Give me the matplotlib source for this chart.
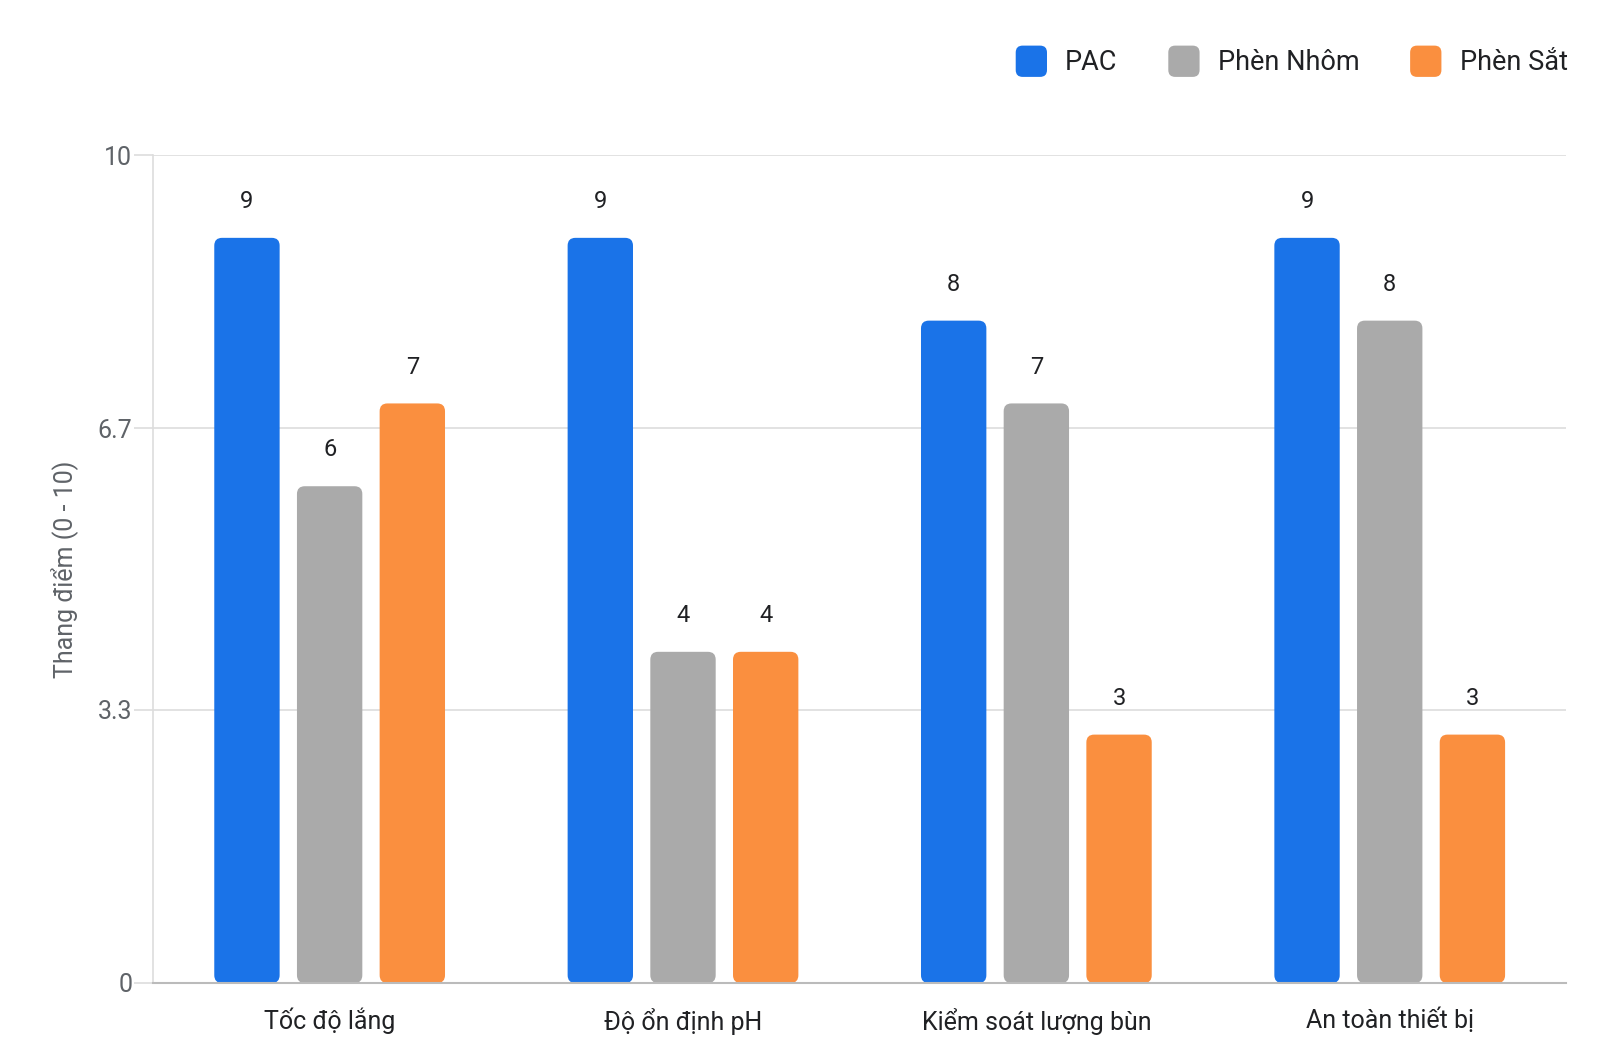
import matplotlib
matplotlib.use('Agg')
import matplotlib.pyplot as plt
from matplotlib.patches import FancyBboxPatch, Patch
from matplotlib.legend_handler import HandlerPatch
import numpy as np

categories = ['Tốc độ lắng', 'Độ ổn định pH', 'Kiểm soát lượng bùn', 'An toàn thiết bị']
series_names = ['PAC', 'Phèn Nhôm', 'Phèn Sắt']
pac = [9, 9, 8, 9]
phen_nhom = [6, 4, 7, 8]
phen_sat = [7, 4, 3, 3]
colors = ['#1a73e8', '#aaaaaa', '#fa8f3f']
yticks = [0, 3.3, 6.7, 10]
ytick_labels = ['0', '3.3', '6.7', '10']

plt.rcParams['font.family'] = ['Roboto', 'DejaVu Sans']

fig = plt.figure(figsize=(16, 10.62), dpi=100)
ax = fig.add_axes([0.0956, 0.0744, 0.8834, 0.7796])

x = np.arange(len(categories))
width = 0.185
offset = 0.234
ax.set_xlim(-0.5, len(categories) - 0.5)
ax.set_ylim(0, 10)

# aspect of data units so rounded corners look circular
asp = (10 / 828) / (4 / 1414)

for i, vals in enumerate([pac, phen_nhom, phen_sat]):
    for j, v in enumerate(vals):
        xc = x[j] + (i - 1) * offset
        p = FancyBboxPatch((xc - width / 2, 0), width, v,
                           boxstyle='round,pad=0,rounding_size=0.022',
                           mutation_aspect=asp, facecolor=colors[i],
                           edgecolor='none', zorder=3)
        ax.add_patch(p)
        ax.text(xc, v + 0.3, str(v), ha='center', va='bottom',
                fontsize=17, color='#202124', zorder=4)

ax.set_yticks(yticks)
ax.set_yticklabels(ytick_labels, fontsize=18, color='#5f6368')
ax.set_xticks(x)
ax.set_xticklabels(categories, fontsize=18, color='#202124')
ax.tick_params(axis='y', length=14, color='#dddddd', pad=1, width=1.2)
ax.tick_params(axis='x', length=0, pad=18)
ax.yaxis.grid(True, color='#dddddd', linewidth=1.2, zorder=0)
ax.set_axisbelow(True)
for s in ['top', 'right']:
    ax.spines[s].set_visible(False)
ax.spines['left'].set_color('#dddddd')
ax.spines['left'].set_linewidth(1.2)
ax.spines['bottom'].set_color('#bbbbbb')
ax.spines['bottom'].set_linewidth(1.5)
ax.spines['bottom'].set_zorder(5)

ax.set_ylabel('Thang điểm (0 - 10)', fontsize=18, color='#5f6368', labelpad=14)


class RoundHandler(HandlerPatch):
    def create_artists(self, legend, orig_handle, xdescent, ydescent,
                       width, height, fontsize, trans):
        s = min(width, height)
        p = FancyBboxPatch((-xdescent + (width - s) / 2, -ydescent + (height - s) / 2), s, s,
                           boxstyle='round,pad=0,rounding_size=%f' % (s * 0.22),
                           facecolor=orig_handle.get_facecolor(), edgecolor='none',
                           transform=trans)
        return [p]


handles = [Patch(facecolor=c, edgecolor='none', label=n) for c, n in zip(colors, series_names)]
fig.legend(handles=handles, loc='upper right', bbox_to_anchor=(0.995, 0.98), ncol=3,
           frameon=False, fontsize=19.5, handlelength=1.4, handleheight=1.4,
           handletextpad=0.55, columnspacing=1.75, labelcolor='#202124',
           handler_map={Patch: RoundHandler()})

fig.savefig('out.png', dpi=100, facecolor='white')
